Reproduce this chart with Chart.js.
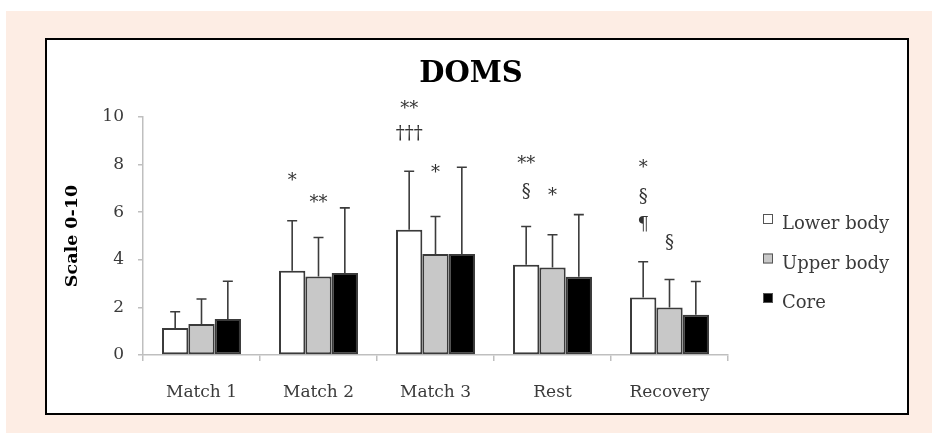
<!DOCTYPE html>
<html><head><meta charset="utf-8">
<script src="https://cdn.jsdelivr.net/npm/chart.js@4.4.1/dist/chart.umd.min.js"></script>
<style>html,body{margin:0;padding:0;background:#fff;overflow:hidden}#wrap{width:932px;height:433px;position:relative}</style>
</head><body><div id="wrap"><canvas id="c" width="932" height="433"></canvas></div>
<script>
const chartTitle = 'DOMS';
const yAxisTitle = 'Scale 0-10';
const categories = ['Match 1', 'Match 2', 'Match 3', 'Rest', 'Recovery'];
const seriesNames = ['Lower body', 'Upper body', 'Core'];
const lowerBody = [1.13, 3.54, 5.26, 3.79, 2.42];
const upperBody = [1.30, 3.30, 4.24, 3.68, 2.00];
const core = [1.51, 3.45, 4.24, 3.29, 1.69];
const lowerBodySD = [0.69, 2.10, 2.46, 1.61, 1.50];
const upperBodySD = [1.05, 1.64, 1.58, 1.37, 1.17];
const coreSD = [1.59, 2.73, 3.65, 2.61, 1.40];
const yTicks = [0, 2, 4, 6, 8, 10];
// significance markers: label, category index, series index, value level
const sigLabels = ['*', '**', '**', '\u2020\u2020\u2020', '*', '**', '\u00a7', '*', '*', '\u00a7', '\u00b6', '\u00a7'];
const sigCategory = [1, 1, 2, 2, 2, 3, 3, 3, 4, 4, 4, 4];
const sigSeries = [0, 1, 0, 0, 1, 0, 0, 1, 0, 0, 0, 1];
const sigLevel = [7.52, 6.59, 10.53, 9.34, 7.83, 8.20, 6.89, 6.89, 8.04, 6.68, 5.52, 4.73];

const seriesValues = [lowerBody, upperBody, core];
const seriesSD = [lowerBodySD, upperBodySD, coreSD];
const fills = ['#FFFFFF', '#C8C8C8', '#000000'];
const FONT = '"DejaVu Serif", serif';
const TXT = '#3a3a3a';

const framePlugin = {
  id: 'frame',
  beforeDraw(chart) {
    const ctx = chart.ctx;
    ctx.save();
    ctx.fillStyle = '#FFFFFF';
    ctx.fillRect(0, 0, 932, 433);
    ctx.fillStyle = '#FDEDE4';
    ctx.fillRect(6, 11, 926, 422);
    ctx.fillStyle = '#FFFFFF';
    ctx.fillRect(46, 39, 862, 375);
    ctx.strokeStyle = '#000000';
    ctx.lineWidth = 2;
    ctx.strokeRect(46, 39, 862, 375);
    ctx.restore();
  }
};

const extrasPlugin = {
  id: 'extras',
  afterDatasetsDraw(chart) {
    const ctx = chart.ctx;
    const y = chart.scales.y;
    ctx.save();
    // error bars
    ctx.strokeStyle = '#3c3c3c';
    ctx.lineWidth = 1.6;
    seriesValues.forEach((vals, si) => {
      const meta = chart.getDatasetMeta(si);
      vals.forEach((v, ci) => {
        const bar = meta.data[ci];
        const top = y.getPixelForValue(v + seriesSD[si][ci]);
        const base = y.getPixelForValue(v);
        ctx.beginPath();
        ctx.moveTo(bar.x, base);
        ctx.lineTo(bar.x, top);
        ctx.moveTo(bar.x - 5, top);
        ctx.lineTo(bar.x + 5, top);
        ctx.stroke();
      });
    });
    // significance markers
    ctx.fillStyle = '#333333';
    ctx.font = '18px ' + FONT;
    ctx.textAlign = 'center';
    ctx.textBaseline = 'alphabetic';
    sigLabels.forEach((lab, k) => {
      const bar = chart.getDatasetMeta(sigSeries[k]).data[sigCategory[k]];
      const py = y.getPixelForValue(sigLevel[k]);
      const m = ctx.measureText(lab);
      const off = (m.actualBoundingBoxAscent - m.actualBoundingBoxDescent) / 2;
      ctx.fillText(lab, bar.x, py + off);
    });
    ctx.restore();
  },
  afterDraw(chart) {
    const ctx = chart.ctx;
    const ca = chart.chartArea;
    ctx.save();
    // title
    ctx.fillStyle = '#000000';
    ctx.font = 'bold 29px ' + FONT;
    ctx.textAlign = 'center';
    ctx.textBaseline = 'alphabetic';
    ctx.fillText(chartTitle, 471, 82);
    // legend
    ctx.font = '18px ' + FONT;
    ctx.textAlign = 'left';
    seriesNames.forEach((name, i) => {
      const by = 214 + i * 39.5;
      const bx = ca.right + 35;
      ctx.fillStyle = fills[i];
      ctx.fillRect(bx, by, 10, 10);
      ctx.strokeStyle = '#555555';
      ctx.lineWidth = 1;
      ctx.strokeRect(bx + 0.5, by + 0.5, 9, 9);
      ctx.fillStyle = TXT;
      ctx.fillText(name, bx + 19, by + 15);
    });
    ctx.restore();
  }
};

new Chart(document.getElementById('c'), {
  type: 'bar',
  data: {
    labels: categories,
    datasets: seriesNames.map((n, i) => ({
      label: n,
      data: seriesValues[i],
      backgroundColor: fills[i],
      borderColor: '#3a3a3a',
      borderWidth: 2,
      borderSkipped: false,
      categoryPercentage: 0.675,
      barPercentage: 1.0
    }))
  },
  options: {
    responsive: false,
    animation: false,
    events: [],
    layout: { padding: { left: 48, right: 204, top: 117, bottom: 28 } },
    plugins: { legend: { display: false }, title: { display: false }, tooltip: { enabled: false } },
    scales: {
      x: {
        grid: { offset: true, drawOnChartArea: false, drawTicks: true, tickLength: 6, color: '#BFBFBF', lineWidth: 1.5 },
        border: { color: '#BFBFBF', width: 1.5 },
        ticks: { color: TXT, font: { family: FONT, size: 17 }, padding: 21 },
        afterFit(s) { s.height = 50; }
      },
      y: {
        min: 0, max: 10,
        afterBuildTicks(s) { s.ticks = yTicks.map(v => ({ value: v })); },
        grid: { drawOnChartArea: false, drawTicks: true, tickLength: 5, color: '#BFBFBF', lineWidth: 1.5 },
        border: { color: '#BFBFBF', width: 1.5 },
        ticks: { color: TXT, font: { family: FONT, size: 17 }, padding: 14 },
        title: { display: true, text: yAxisTitle, color: '#000000', font: { family: FONT, size: 17.5, weight: 'bold' }, padding: { top: 14, bottom: 0 } },
        afterFit(s) { s.width = 95; }
      }
    }
  },
  plugins: [framePlugin, extrasPlugin]
});
</script></body></html>
